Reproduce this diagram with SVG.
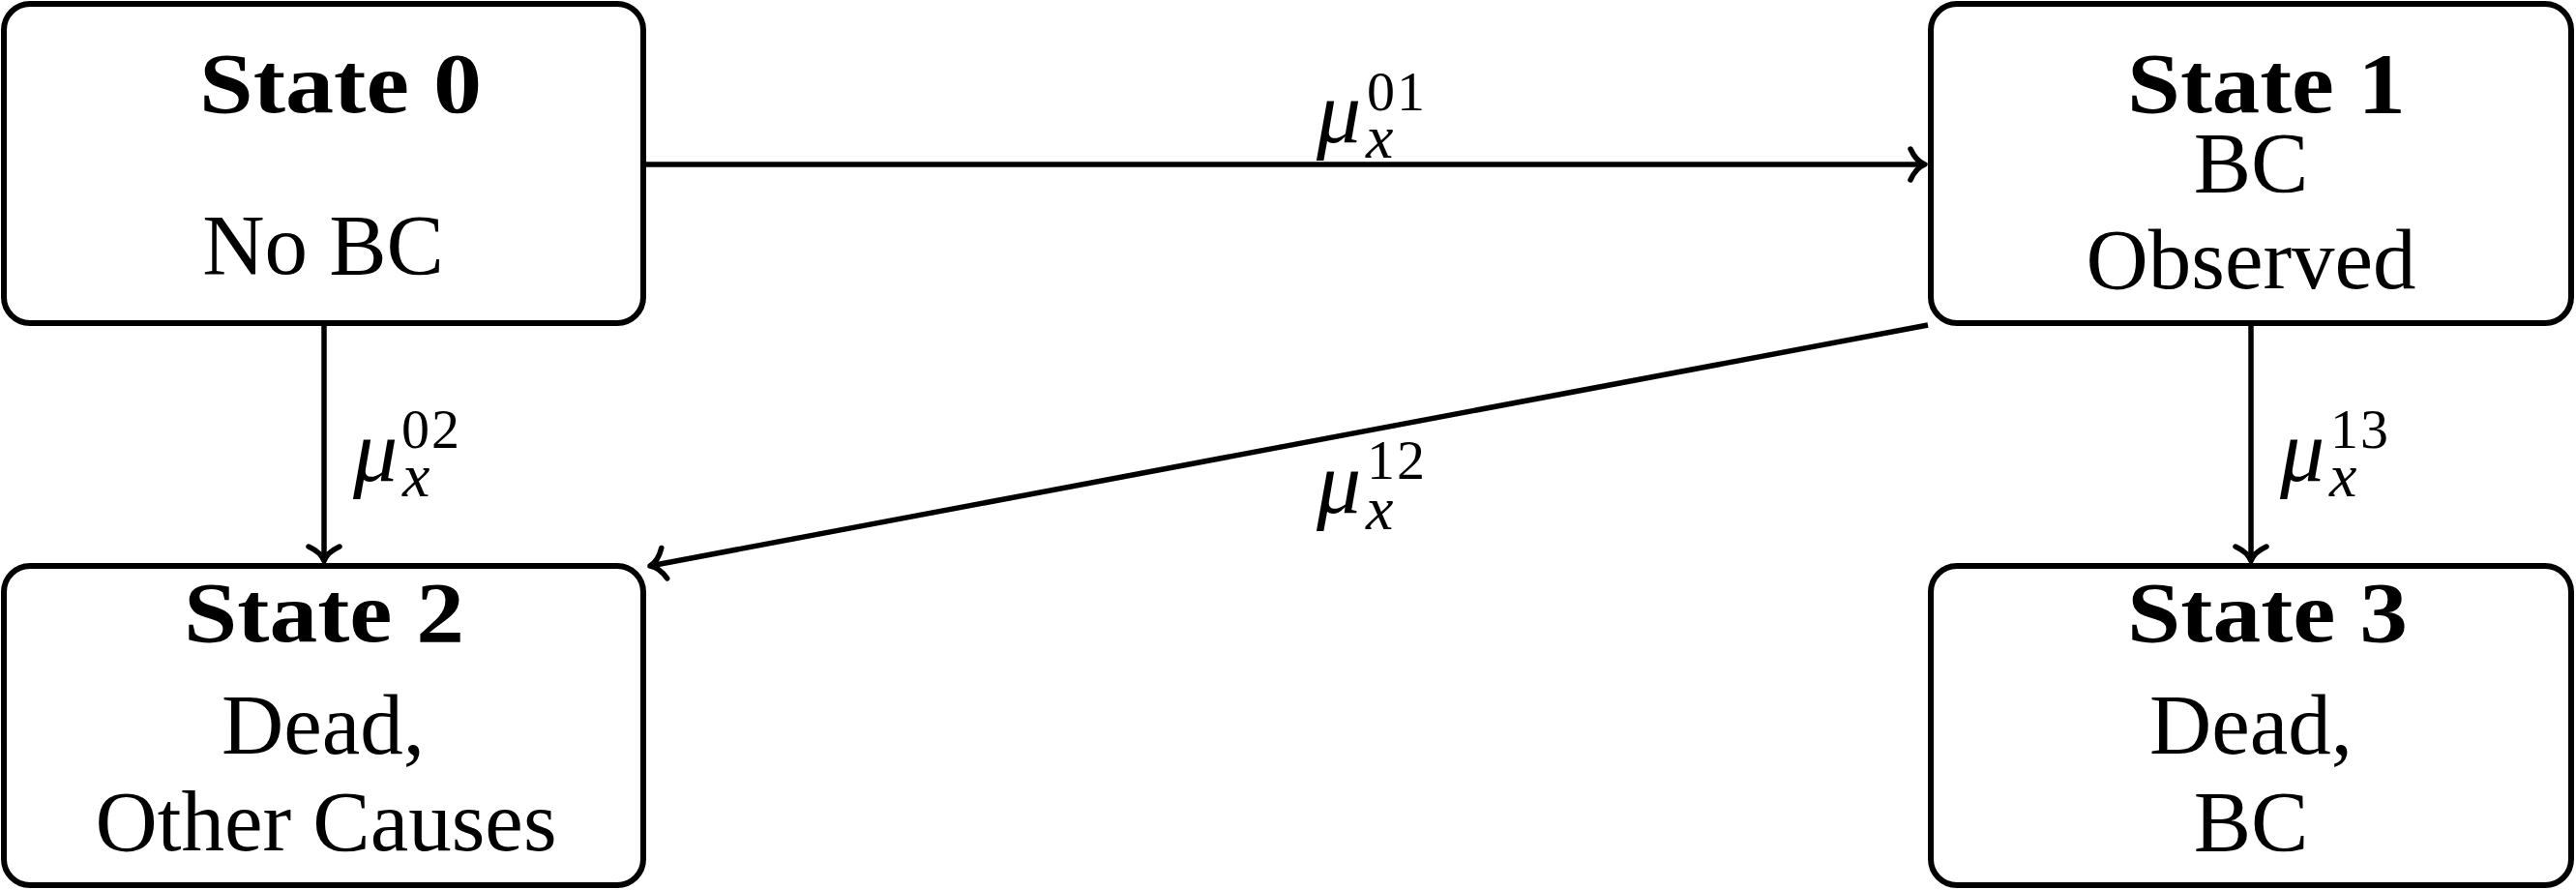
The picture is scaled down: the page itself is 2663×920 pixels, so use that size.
<svg xmlns="http://www.w3.org/2000/svg" width="2663" height="920" viewBox="0 0 2663 920">
<defs>
<style>
.box{fill:#fff;stroke:#000;stroke-width:6}
.title{font-family:"Liberation Serif","DejaVu Serif",serif;font-weight:bold;font-size:88px;fill:#000}
.txt{font-family:"Liberation Serif","DejaVu Serif",serif;font-size:89px;fill:#000;text-anchor:middle}
.math{font-family:"Liberation Serif","DejaVu Serif",serif;fill:#000}
.mu{font-style:italic;font-size:92px}
.sub{font-style:italic;font-size:64px}
.sup{font-style:normal;font-size:58px;letter-spacing:2px}
.edge{stroke:#000;stroke-width:5.5;fill:none;marker-end:url(#to)}
</style>
<marker id="to" markerUnits="userSpaceOnUse" viewBox="-20 -20 24 40" markerWidth="24" markerHeight="40" refX="0" refY="0" orient="auto" overflow="visible">
<path d="M -15,-16 Q -9,-3 0,0 Q -9,3 -15,16" fill="none" stroke="#000" stroke-width="5.5" stroke-linecap="round" stroke-linejoin="round"/>
</marker>
</defs>
<rect width="2663" height="920" fill="#fff"/>
<g id="connectors">
<line class="edge" x1="666" y1="170" x2="1990" y2="170"/>
<line class="edge" x1="335" y1="334" x2="335" y2="580"/>
<line class="edge" x1="2327" y1="334" x2="2327" y2="580"/>
<line class="edge" x1="1993" y1="336" x2="672" y2="585"/>
</g>
<g id="labels">
<text id="mu01" class="math"><tspan class="mu" x="1361" y="147">μ</tspan><tspan class="sup" x="1413" y="114">01</tspan><tspan class="sub" x="1412" y="163">x</tspan></text>
<text id="mu02" class="math"><tspan class="mu" x="365" y="497">μ</tspan><tspan class="sup" x="415" y="463">02</tspan><tspan class="sub" x="416" y="513">x</tspan></text>
<text id="mu12" class="math"><tspan class="mu" x="1361" y="530">μ</tspan><tspan class="sup" x="1413" y="495">12</tspan><tspan class="sub" x="1412" y="547">x</tspan></text>
<text id="mu13" class="math"><tspan class="mu" x="2357" y="497">μ</tspan><tspan class="sup" x="2409" y="463">13</tspan><tspan class="sub" x="2408" y="513">x</tspan></text>
</g>
<g id="state0">
<rect class="box" x="4" y="4" width="661" height="330" rx="27"/>
<text class="title" x="206" y="116" textLength="292" lengthAdjust="spacingAndGlyphs">State 0</text>
<text class="txt" x="334" y="283">No BC</text>
</g>
<g id="state1">
<rect class="box" x="1996" y="4" width="662" height="330" rx="27"/>
<text class="title" x="2199" y="116" textLength="288" lengthAdjust="spacingAndGlyphs">State 1</text>
<text class="txt" x="2327" y="198">BC</text>
<text class="txt" x="2327" y="298">Observed</text>
</g>
<g id="state2">
<rect class="box" x="4" y="585" width="661" height="330" rx="27"/>
<text class="title" x="190" y="663" textLength="290" lengthAdjust="spacingAndGlyphs">State 2</text>
<text class="txt" x="334" y="779">Dead,</text>
<text class="txt" x="337" y="879">Other Causes</text>
</g>
<g id="state3">
<rect class="box" x="1996" y="585" width="662" height="330" rx="27"/>
<text class="title" x="2199" y="663" textLength="290" lengthAdjust="spacingAndGlyphs">State 3</text>
<text class="txt" x="2327" y="779">Dead,</text>
<text class="txt" x="2327" y="879">BC</text>
</g>
</svg>
